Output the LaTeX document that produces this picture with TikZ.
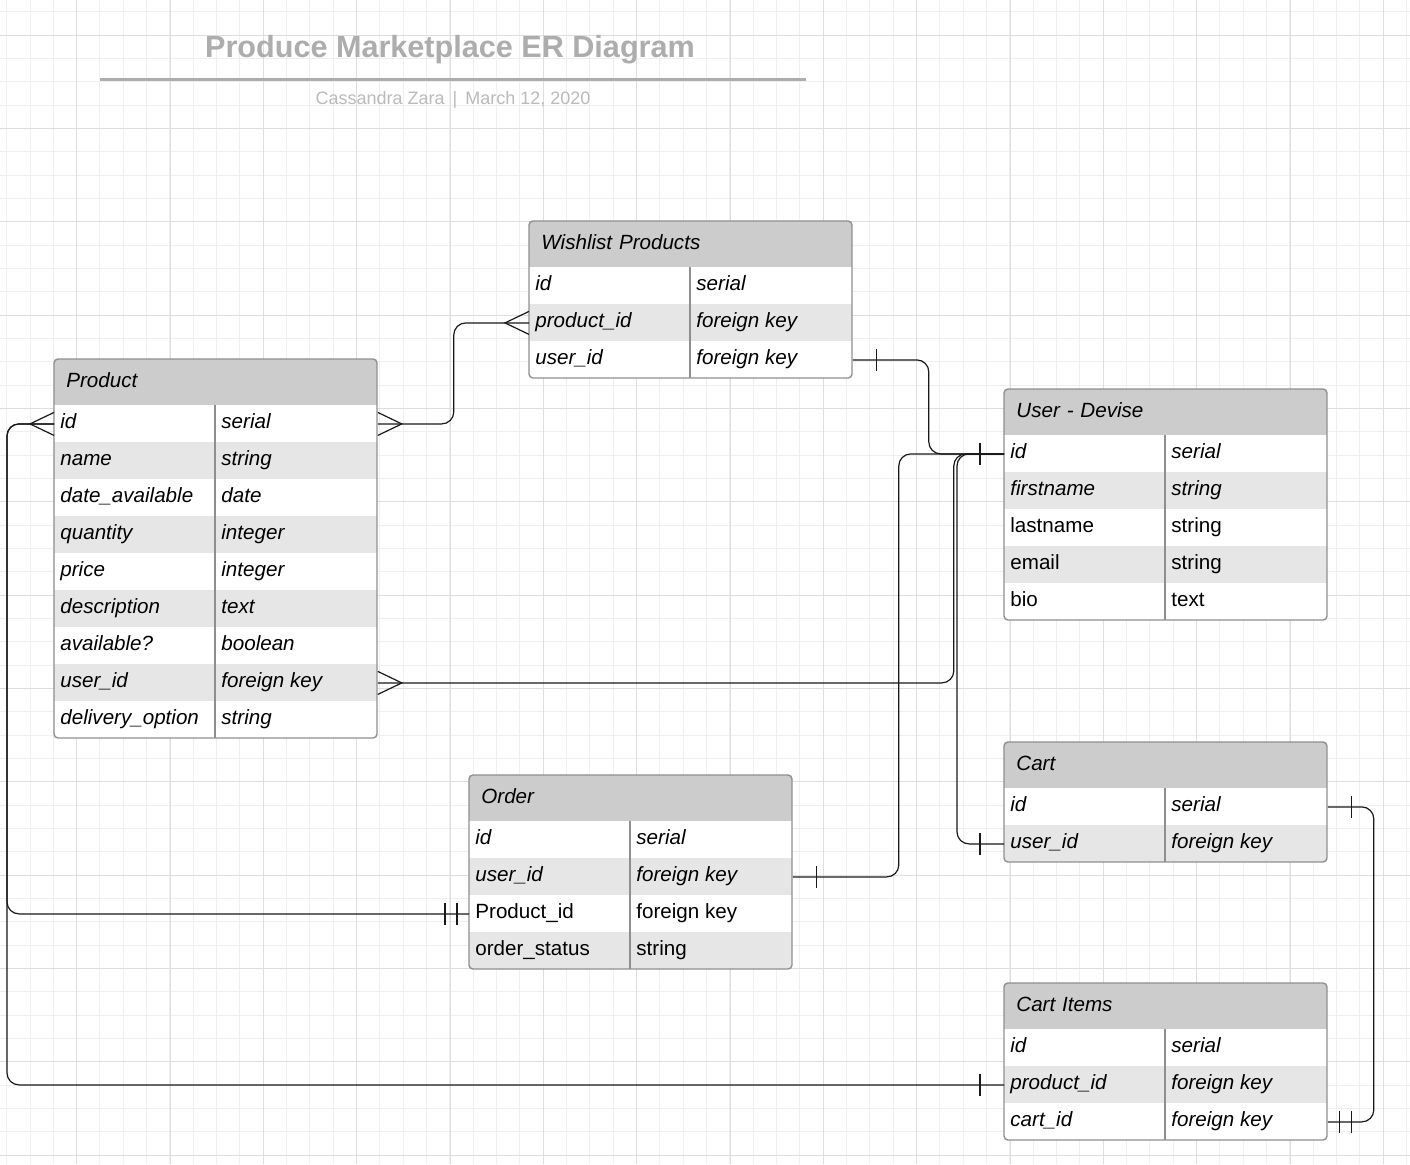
\documentclass[tikz,border=0pt]{standalone}
\usepackage{fontspec}
\setmainfont{Liberation Sans}
\usepackage{tikz}
\usetikzlibrary{calc}

\definecolor{hdrgray}{HTML}{CCCCCC}
\definecolor{rowgray}{HTML}{E6E6E6}
\definecolor{tblgray}{HTML}{8F8F8F}
\definecolor{gridminor}{HTML}{EFEFEF}
\definecolor{gridmajor}{HTML}{DEDEDE}
\definecolor{titlegray}{HTML}{ADADAD}
\definecolor{subgray}{HTML}{BBBBBB}

\newcommand{\cellfont}{\fontsize{10.3pt}{12pt}\selectfont}

% name, x, y, title, number of rows, rows
\newcommand{\ertable}[6]{%
	\begin{scope}
		\clip[rounded corners=2pt] (#2,#3) rectangle ++(323,{46+37*#5});
		\node[hdr] (#1-h) at (#2,#3) {#4};
		\foreach \fld/\typ/\sty [count=\i, evaluate=\i as \shade using {int(100*(1-mod(\i,2)))}] in {#6}{
			\node[rowbox, fill=rowgray!\shade!white] (#1-\i) at (#2,{#3+46+37*(\i-1)}) {};
			\node[cell, font=\cellfont\sty] at (#1-\i.west) {\fld};
			\node[cell, font=\cellfont\sty, xshift=80.5pt] at (#1-\i.west) {\typ};
		}
	\end{scope}
	\draw[tbl] (#2,{#3+46}) ++(161,0) -- ++(0,{37*#5});
	\draw[tbl, rounded corners=2pt] (#2,#3) rectangle ++(323,{46+37*#5});
}
\newcommand{\crowfoot}[2]{\draw[foot] ($(#1)+(0,-11.5)$) -- ($(#1)+(#2,0)$) -- ($(#1)+(0,11.5)$);}
\newcommand{\onebar}[2]{\draw[foot] ($(#1)+(#2,-11)$) -- ($(#1)+(#2,11)$);}

\begin{document}
\begin{tikzpicture}[x=0.5pt,y=-0.5pt]
\tikzset{
	hdr/.style = {anchor=north west, minimum width=161.5pt, minimum height=23pt, inner xsep=6pt, inner ysep=0pt,
		text width=149.5pt, align=left, fill=hdrgray, font=\cellfont\itshape, text height=7.6pt, text depth=2.2pt},
	rowbox/.style = {anchor=north west, minimum width=161.5pt, minimum height=18.5pt, inner sep=0pt},
	cell/.style = {anchor=west, inner sep=0pt, xshift=3pt, yshift=0.6pt, text height=7.6pt, text depth=2.2pt},
	tbl/.style = {draw=tblgray, line width=0.7pt},
	conn/.style = {draw=black!90, line width=0.6pt, rounded corners=6pt},
	foot/.style = {draw=black!90, line width=0.6pt},
	gridmin/.style = {draw=gridminor, line width=0.5pt},
	gridmaj/.style = {draw=gridmajor, line width=0.5pt}
}

\useasboundingbox (0,0) rectangle (1410,1164);
\fill[white] (0,0) rectangle (1410,1164);

% grid
\foreach \k in {0,...,60} \draw[gridmin] ({6.667+23.333*\k},0) -- ++(0,1164);
\foreach \k in {0,...,49} \draw[gridmin] (0,{11.667+23.333*\k}) -- ++(1410,0);
\foreach \k in {0,...,14} \draw[gridmaj] ({76.667+93.333*\k},0) -- ++(0,1164);
\foreach \k in {0,...,12} \draw[gridmaj] (0,{35+93.333*\k}) -- ++(1410,0);

% title
\node (title) at (450,50) [font=\fontsize{15.3pt}{18pt}\selectfont\bfseries, text=titlegray] {Produce Marketplace ER Diagram};
\draw[titlegray, line width=1.5pt] (100,79) -- (806,79);
\node (subtitle) at (453,100) [font=\fontsize{9pt}{11pt}\selectfont, text=subgray] {Cassandra Zara \,|\, March 12, 2020};

% tables
\ertable{prod}{54}{359}{Product}{9}{id/serial/\itshape, name/string/\itshape, date\_available/date/\itshape,
	quantity/integer/\itshape, price/integer/\itshape, description/text/\itshape, available?/boolean/\itshape,
	user\_id/foreign key/\itshape, delivery\_option/string/\itshape}
\ertable{wish}{529}{221}{Wishlist Products}{3}{id/serial/\itshape, product\_id/foreign key/\itshape, user\_id/foreign key/\itshape}
\ertable{user}{1004}{389}{User - Devise}{5}{id/serial/\itshape, firstname/string/\itshape, lastname/string/\upshape,
	email/string/\upshape, bio/text/\upshape}
\ertable{cart}{1004}{742}{Cart}{2}{id/serial/\itshape, user\_id/foreign key/\itshape}
\ertable{order}{469}{775}{Order}{4}{id/serial/\itshape, user\_id/foreign key/\itshape, Product\_id/foreign key/\upshape,
	order\_status/string/\upshape}
\ertable{citem}{1004}{983}{Cart Items}{3}{id/serial/\itshape, product\_id/foreign key/\itshape, cart\_id/foreign key/\itshape}

% relations
\draw[conn] (prod-1.east) -- ++(76,0) |- (wish-2.west);
\crowfoot{prod-1.east}{24}
\crowfoot{wish-2.west}{-24}

\draw[conn] (wish-3.east) -- ++(76,0) |- (user-1.west);
\onebar{wish-3.east}{24}
\onebar{user-1.west}{-24}

\draw[conn] (prod-8.east) -- ++(576,0) |- (user-1.west);
\crowfoot{prod-8.east}{24}

\draw[conn] (order-2.east) -- ++(106,0) |- (user-1.west);
\onebar{order-2.east}{24}

\draw[conn] (cart-2.west) -- ++(-47,0) |- (user-1.west);
\onebar{cart-2.west}{-24}

\draw[conn] (cart-1.east) -- ++(46,0) |- (citem-3.east);
\onebar{cart-1.east}{24}
\onebar{citem-3.east}{12}
\onebar{citem-3.east}{24}

\draw[conn] (prod-1.west) -- ++(-47,0) |- (order-3.west);
\draw[conn] (prod-1.west) -- ++(-47,0) |- (citem-2.west);
\crowfoot{prod-1.west}{-24}
\onebar{order-3.west}{-24}
\onebar{order-3.west}{-12}
\onebar{citem-2.west}{-24}
\end{tikzpicture}
\end{document}
